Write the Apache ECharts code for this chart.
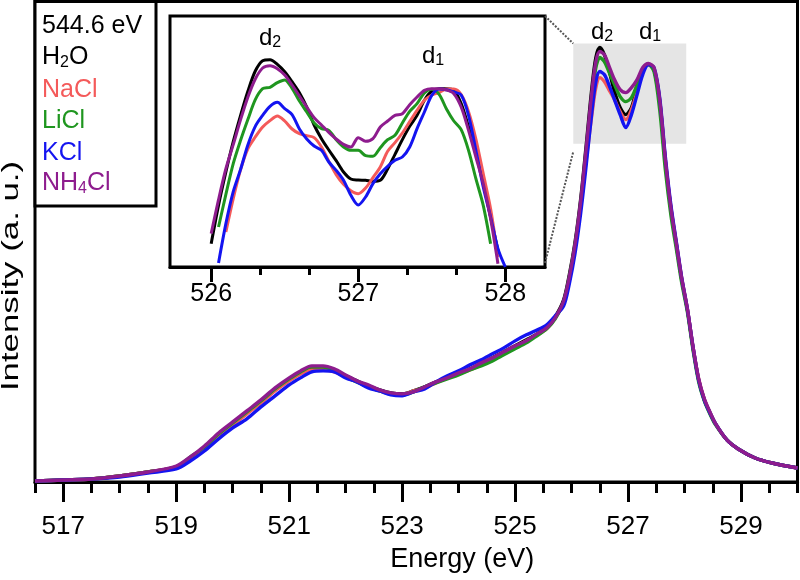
<!DOCTYPE html>
<html><head><meta charset="utf-8">
<script src="https://cdn.jsdelivr.net/npm/echarts@6/dist/echarts.min.js"></script>
<style>html,body{margin:0;padding:0;background:#fff}#c{width:800px;height:580px}</style>
</head><body><div id="c"></div>
<script>
// ---------- main spectrum ----------
const energyMain = [516.5,517,517.5,518,518.5,519,519.25,519.5,519.75,520,520.25,520.5,520.75,521,521.2,521.4,521.6,521.8,522,522.2,522.4,522.6,522.8,523,523.2,523.4,523.6,523.8,524,524.2,524.4,524.6,524.8,525,525.2,525.36,525.56,525.71,525.86,525.96,526.06,526.16,526.26,526.36,526.43,526.50,526.58,526.66,526.76,526.86,526.96,527.06,527.16,527.26,527.36,527.46,527.56,527.66,527.76,527.86,527.95,528.05,528.15,528.25,528.35,528.45,528.55,528.75,528.95,529.25,529.55,530.0];
const h2oMain  = [1,2,3,6,10,15,24,35,47,58,69,80,92,102,109,114,114,111,106,101,96,92,89,88,91,95,100,104,108,113,118,124,130,136,142,147,154,165,182,207,239,282,337,394,424,434,427,412,390,374,367,374,394,412,417,412,380,320,272,235,202,172,134,102,82,69,58,42,33,24,19,14];
const naclMain = [1,2,3,6,10,15,24,34,47,57,68,79,91,101,108,112,112,110,105,100,96,91,88,87,91,94,99,104,108,112,117,123,129,135,141,146,153,164,179,202,234,274,322,367,394,404,400,392,382,370,362,372,390,410,417,412,382,322,274,237,204,173,135,103,83,69,58,42,33,24,19,14];
const liclMain = [1,2,3,6,10,15,25,35,48,59,70,81,93,103,110,115,115,111,105,100,95,91,88,87,90,95,99,103,107,112,116,121,127,133,139,145,153,163,180,205,236,278,330,384,414,424,420,410,397,385,380,384,397,412,417,410,372,312,266,231,199,170,132,100,81,68,57,42,33,24,19,14];
const kclMain  = [1,2,3,5,9,13,21,31,43,54,63,75,86,97,104,110,111,110,104,100,94,91,87,86,90,93,100,106,111,117,122,128,134,141,147,151,157,166,176,198,228,268,317,370,400,410,407,397,382,367,354,367,387,407,417,414,384,325,276,238,204,173,135,102,82,69,58,42,33,24,19,14];
const nh4clMain= [1,2,3,6,10,16,25,36,49,60,71,82,94,104,111,116,116,113,107,101,97,92,89,88,90,95,100,104,109,113,119,124,130,136,141,147,154,164,181,205,237,280,334,390,420,430,427,416,402,392,389,394,402,414,418,414,382,322,273,236,203,173,135,103,83,70,58,42,33,24,19,14];

// ---------- inset (zoom of d2/d1 region) ----------
const energyInset = [526.00,526.05,526.10,526.15,526.20,526.25,526.30,526.35,526.40,526.45,526.50,526.55,526.60,526.65,526.70,526.75,526.80,526.85,526.90,526.95,527.00,527.05,527.10,527.15,527.20,527.25,527.30,527.35,527.40,527.45,527.50,527.55,527.60,527.65,527.70,527.75,527.80,527.85,527.90,527.95,528.00];
const h2oInset  = [70,185,285,376,455,528,588,619,622,608,586,556,523,480,426,385,351,319,285,264,261,260,257,260,294,338,382,422,455,500,528,535,535,530,490,420,340,255,150,50,null];
const naclInset = [null,null,105,205,292,355,390,420,439,453,438,414,400,394,388,360,317,277,248,229,220,237,268,300,347,373,402,436,470,500,516,523,534,534,517,466,384,280,175,30,null];
const liclInset = [null,120,218,310,380,443,502,535,539,553,561,536,498,465,432,415,410,382,360,350,350,334,332,358,382,395,432,467,490,522,533,518,474,438,412,350,265,185,70,null,null];
const kclInset  = [null,12,130,226,293,367,422,455,482,494,475,457,414,384,363,350,315,290,260,215,186,210,250,280,302,320,330,360,415,465,515,534,532,525,516,455,350,240,150,55,0];
const nh4clInset= [100,202,295,367,442,510,564,597,604,595,576,546,513,480,448,426,404,384,368,360,388,377,385,420,438,455,460,487,510,530,535,535,531,520,480,410,330,250,145,10,null];

// ---------- axes / annotations ----------
const mainMajorTicks = [517,519,521,523,525,527,529];
const mainMinorTicks = [516.5,517,517.5,518,518.5,519,519.5,520,520.5,521,521.5,522,522.5,523,523.5,524,524.5,525,525.5,526,526.5,527,527.5,528,528.5,529,529.5,530];
const mainRange = [516.5, 530];
const insetMajorTicks = [526,527,528];
const insetMinorTicks = [526.333,526.667,527.333,527.667];
const insetRange = [525.72, 528.27];
const zoomBoxEnergy = [526.03, 528.03];
const zoomBoxIntensity = [338, 438];
const seriesNames = ['H2O','NaCl','LiCl','KCl','NH4Cl'];
const legendRich = ['{n|H}{s|2}{n|O}','{n|NaCl}','{n|LiCl}','{n|KCl}','{n|NH}{s|4}{n|Cl}'];
const excitation = '544.6 eV';
const yTitle = 'Intensity (a. u.)';
const colors = ['#000000','#f45a5a','#1f961f','#1414f0','#8e1c8e'];

const FONT = '"Liberation Sans", Arial, Helvetica, sans-serif';
const pairs = (xs, ys) => xs.map((x, i) => [x, ys[i]]);
const mainData = [h2oMain, naclMain, liclMain, kclMain, nh4clMain];
const insetData = [h2oInset, naclInset, liclInset, kclInset, nh4clInset];

const chart = echarts.init(document.getElementById('c'), null, {renderer: 'canvas'});

const series = [];
series.push({
  type: 'line', xAxisIndex: 0, yAxisIndex: 0, data: [], z: 1, silent: true,
  markArea: { silent: true, itemStyle: { color: '#e5e5e5' },
    data: [[{ coord: [zoomBoxEnergy[0], zoomBoxIntensity[0]] }, { coord: [zoomBoxEnergy[1], zoomBoxIntensity[1]] }]] }
});
mainData.forEach((d, i) => series.push({
  name: seriesNames[i], type: 'line', xAxisIndex: 0, yAxisIndex: 0,
  data: pairs(energyMain, d), showSymbol: false, smooth: 0.3,
  lineStyle: { color: colors[i], width: 3.4 }, z: 3 + i
}));
insetData.forEach((d, i) => series.push({
  name: seriesNames[i] + ' inset', type: 'line', xAxisIndex: 2, yAxisIndex: 1,
  data: pairs(energyInset, d), showSymbol: false, smooth: 0.3, connectNulls: false,
  lineStyle: { color: colors[i], width: 3 }, z: 3 + i, clip: true
}));

const sub = (a, b) => '{n|' + a + '}{s|' + b + '}';
const legendTexts = ['{n|' + excitation + '}', ...legendRich];
const legendColors = ['#000', ...colors];
const legendY = [26, 57, 90, 121, 153, 183];
const legendItems = legendTexts.map((t, i) => ({
  id: 'lg' + i, type: 'text', x: 42, y: legendY[i], z: 21,
  style: { text: t, fill: legendColors[i], verticalAlign: 'middle',
    rich: { n: { fontSize: 25, fontFamily: FONT, lineHeight: 28, fill: legendColors[i] },
            s: { fontSize: 16, fontFamily: FONT, lineHeight: 10, verticalAlign: 'bottom', fill: legendColors[i] } } }
}));
const dRich = { n: { fontSize: 24, fontFamily: FONT, lineHeight: 26, fill: '#000' },
                s: { fontSize: 16, fontFamily: FONT, lineHeight: 9, verticalAlign: 'bottom', fill: '#000' } };
const annot = [
  { id: 'm2', x: 591, y: 32, t: sub('d', '2') }, { id: 'm1', x: 639, y: 32, t: sub('d', '1') },
  { id: 'i2', x: 259, y: 38, t: sub('d', '2') }, { id: 'i1', x: 422, y: 56, t: sub('d', '1') }
];

const option = {
  animation: false,
  backgroundColor: '#ffffff',
  grid: [
    { left: 35, right: 2.5, top: 1.5, bottom: 98, show: true, borderColor: '#000', borderWidth: 3, backgroundColor: 'transparent', z: 0 },
    { left: 170, top: 16, width: 375, height: 251, show: true, borderColor: '#000', borderWidth: 3, backgroundColor: '#fff', z: 2 }
  ],
  xAxis: [
    { type: 'value', gridIndex: 0, min: mainRange[0], max: mainRange[1], position: 'bottom',
      axisLine: { show: true, onZero: false, lineStyle: { color: '#000', width: 3 } },
      axisTick: { show: true, customValues: mainMajorTicks, length: 20, lineStyle: { color: '#000', width: 3 } },
      axisLabel: { show: true, customValues: mainMajorTicks, margin: 32, fontSize: 26, fontFamily: FONT, color: '#000' },
      splitLine: { show: false },
      name: 'Energy (eV)', nameLocation: 'middle', nameGap: 64,
      nameTextStyle: { fontSize: 27, fontFamily: FONT, color: '#000', padding: [0, 0, 0, 92] } },
    { type: 'value', gridIndex: 0, min: mainRange[0], max: mainRange[1], position: 'bottom',
      axisLine: { show: false, onZero: false },
      axisTick: { show: true, customValues: mainMinorTicks, length: 11, lineStyle: { color: '#000', width: 3 } },
      axisLabel: { show: false }, splitLine: { show: false } },
    { type: 'value', gridIndex: 1, min: insetRange[0], max: insetRange[1], position: 'bottom',
      axisLine: { show: true, onZero: false, lineStyle: { color: '#000', width: 3 } },
      axisTick: { show: true, customValues: insetMajorTicks, length: 15, lineStyle: { color: '#000', width: 3 } },
      axisLabel: { show: true, customValues: insetMajorTicks, margin: 15, fontSize: 25, fontFamily: FONT, color: '#000' },
      splitLine: { show: false } },
    { type: 'value', gridIndex: 1, min: insetRange[0], max: insetRange[1], position: 'bottom',
      axisLine: { show: false, onZero: false },
      axisTick: { show: true, customValues: insetMinorTicks, length: 8, lineStyle: { color: '#000', width: 3 } },
      axisLabel: { show: false }, splitLine: { show: false } }
  ],
  yAxis: [
    { type: 'value', gridIndex: 0, min: 0, max: 480,
      axisLine: { show: false }, axisTick: { show: false }, axisLabel: { show: false }, splitLine: { show: false } },
    { type: 'value', gridIndex: 1, min: 0, max: 753,
      axisLine: { show: false }, axisTick: { show: false }, axisLabel: { show: false }, splitLine: { show: false } }
  ],
  series: series
};
chart.setOption(option);

const p = (xi, yi, v) => chart.convertToPixel({ xAxisIndex: xi, yAxisIndex: yi }, v);
const boxTL = p(0, 0, [zoomBoxEnergy[0], zoomBoxIntensity[1]]);
const boxBL = p(0, 0, [zoomBoxEnergy[0], zoomBoxIntensity[0] - 8]);
const insTR = p(2, 1, [insetRange[1], 753]);
const insBR = p(2, 1, [insetRange[1], 12]);

const graphics = [
  { id: 'lgbox', type: 'rect', z: 20, shape: { x: 35, y: 1.5, width: 121, height: 204.5 },
    style: { fill: '#fff', stroke: '#000', lineWidth: 3 } },
  ...legendItems,
  ...annot.map(a => ({ id: a.id, type: 'text', x: a.x, y: a.y, z: 22,
    style: { text: a.t, verticalAlign: 'middle', rich: dRich } })),
  { id: 'ytitle', type: 'text', x: 11, y: 276, rotation: Math.PI / 2, scaleX: 1.45, z: 22,
    style: { text: yTitle, font: '24px ' + FONT, fill: '#000', align: 'center', verticalAlign: 'middle' } },
  { id: 'c1', type: 'line', z: 15, shape: { x1: insTR[0], y1: insTR[1], x2: boxTL[0], y2: boxTL[1] },
    style: { stroke: '#555', lineWidth: 2, lineDash: [2, 1.5] } },
  { id: 'c2', type: 'line', z: 15, shape: { x1: insBR[0], y1: insBR[1], x2: boxBL[0], y2: boxBL[1] },
    style: { stroke: '#555', lineWidth: 2, lineDash: [2, 1.5] } }
];
chart.setOption({ graphic: graphics });
</script>
</body></html>
